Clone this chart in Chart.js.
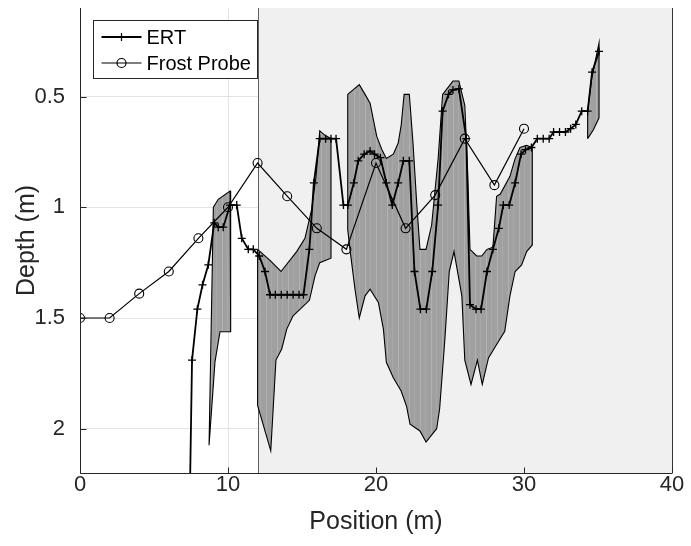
<!DOCTYPE html>
<html>
<head>
<meta charset="utf-8">
<script src="https://cdn.jsdelivr.net/npm/chart.js@4.4.1/dist/chart.umd.min.js"></script>
<style>
  html, body { margin: 0; padding: 0; background: #fff; }
  #wrap { width: 691px; height: 546px; }
</style>
</head>
<body>
<div id="wrap"><canvas id="chart" width="691" height="546"></canvas></div>
<script>
// axis ticks
var xTicks = [0, 10, 20, 30, 40];
var yTicks = [0.5, 1, 1.5, 2];
var shadeFrom = 12, shadeTo = 40;

// frost probe readings
var frostX = [0, 2, 4, 6, 8, 10, 12, 14, 16, 18, 20, 22, 24, 26, 28, 30];
var frostDepth = [1.5, 1.5, 1.39, 1.29, 1.14, 1.0, 0.8, 0.95, 1.095, 1.19, 0.8, 1.095, 0.945, 0.69, 0.9, 0.645];

// ERT estimate
var ertX = [7.4, 7.57, 7.93, 8.28, 8.67, 9.07, 9.34, 9.68, 10.14, 10.59, 10.93, 11.37, 11.71, 12.11, 12.5,
  12.84, 13.2, 13.6, 14.0, 14.4, 14.8, 15.1, 15.5, 15.8, 16.2, 16.6, 16.96, 17.3, 17.8, 18.1,
  18.5, 18.8, 19.2, 19.6, 19.9, 20.3, 20.7, 21.1, 21.5, 21.85, 22.25, 22.6, 23.0, 23.4, 23.8,
  24.2, 24.5, 24.9, 25.2, 25.6, 26.1, 26.35, 26.76, 27.1, 27.5, 27.9, 28.3, 28.6, 29.0, 29.4,
  29.8, 30.1, 30.5, 30.9, 31.3, 31.7, 32.0, 32.4, 32.8, 33.15, 33.5, 33.9, 34.3, 34.6, 35.07];
var ertDepth = [2.4, 1.69, 1.46, 1.35, 1.26, 1.07, 1.09, 1.09, 0.99, 0.99, 1.14, 1.19, 1.19, 1.22, 1.29,
  1.395, 1.395, 1.395, 1.395, 1.395, 1.395, 1.395, 1.19, 0.89, 0.69, 0.69, 0.69, 0.69, 0.99, 0.99,
  0.89, 0.79, 0.76, 0.746, 0.76, 0.776, 0.89, 0.99, 0.89, 0.79, 0.79, 1.29, 1.46, 1.46, 1.29,
  0.99, 0.566, 0.49, 0.47, 0.465, 0.69, 1.44, 1.46, 1.46, 1.29, 1.19, 1.095, 0.99, 0.99, 0.89,
  0.76, 0.74, 0.73, 0.69, 0.69, 0.69, 0.66, 0.66, 0.66, 0.645, 0.626, 0.566, 0.566, 0.39, 0.296];

// uncertainty band outlines (x, depth), one per piece
var bandAX = [9.01, 9.34, 10.14, 10.18, 9.46, 9.12, 8.72];
var bandAD = [1.0, 0.964, 0.927, 1.562, 1.562, 1.698, 2.075];
var bandBX = [12.0, 12.84, 13.58, 14.64, 15.2, 15.65, 15.95, 16.2, 16.55, 16.96, 16.96, 16.2, 15.88, 15.5, 14.4, 13.97, 13.63, 13.24, 12.89, 12.0];
var bandBD = [1.19, 1.24, 1.29, 1.2, 1.14, 1.01, 0.86, 0.655, 0.675, 0.69, 1.23, 1.25, 1.31, 1.42, 1.49, 1.55, 1.64, 1.69, 2.1, 1.895];
var bandCX = [18.09, 18.87, 19.26, 19.6, 20.05, 20.4, 20.7, 21.17, 21.5, 21.7, 21.9, 22.25, 22.5, 22.75, 22.97, 23.38, 23.76, 24.2, 24.5,
  25.2, 25.6, 26.0, 26.2, 26.35, 26.8, 27.14, 27.5, 27.9, 28.15, 28.4, 29.05, 29.4, 29.73, 30.18, 30.56,
  30.56, 30.18, 29.84, 29.4, 29.05, 28.7, 28.15, 27.6, 27.18, 26.85, 26.42, 26.0, 25.8, 25.27, 24.95, 24.66, 24.3, 24.1,
  23.38, 22.97, 22.3, 22.07, 21.7, 21.17, 20.7, 20.5, 20.16, 19.6, 19.26, 18.87, 18.58, 18.24, 18.09];
var bandCD = [0.49, 0.446, 0.49, 0.53, 0.68, 0.74, 0.78, 0.76, 0.71, 0.63, 0.49, 0.49, 0.71, 0.98, 1.19, 1.19, 1.08, 0.78, 0.49,
  0.43, 0.43, 0.54, 0.85, 1.19, 1.22, 1.22, 1.19, 1.18, 0.95, 0.94, 0.86, 0.78, 0.73, 0.72, 0.73,
  1.17, 1.2, 1.26, 1.29, 1.4, 1.56, 1.62, 1.68, 1.8, 1.69, 1.8, 1.69, 1.4, 1.2, 1.29, 1.59, 1.91, 2.0,
  2.06, 2.01, 1.98, 1.9, 1.83, 1.77, 1.7, 1.55, 1.43, 1.37, 1.4, 1.5, 1.37, 1.19, 1.1];
var bandDX = [34.3, 34.3, 34.57, 35.07, 35.07, 34.69];
var bandDD = [0.69, 0.566, 0.42, 0.258, 0.596, 0.65];

var FONT = "'Liberation Sans', Arial, Helvetica, sans-serif";
var INK = '#262626';

function points(xs, ds) {
  return xs.map(function (x, i) { return {x: x, y: ds[i]}; });
}

function outline(xs, ds) {
  var pts = points(xs, ds);
  pts.push({x: xs[0], y: ds[0]});
  return pts;
}

function hatch() {
  var c = document.createElement('canvas');
  c.width = 11; c.height = 4;
  var g = c.getContext('2d');
  g.fillStyle = '#a0a0a0'; g.fillRect(0, 0, 11, 4);
  g.fillStyle = '#b2b2b2'; g.fillRect(2, 0, 1, 4);
  g.fillStyle = '#a9a9a9'; g.fillRect(7, 0, 1, 4);
  return g.createPattern(c, 'repeat');
}
var bandFill = hatch();

function bandSet(xs, ds) {
  return {
    data: outline(xs, ds),
    fill: 'shape',
    backgroundColor: bandFill,
    borderColor: '#000',
    borderWidth: 1.1,
    pointRadius: 0,
    tension: 0
  };
}

// light gray patch behind everything right of x=12
var shadePlugin = {
  id: 'shade',
  beforeDatasetsDraw: function (chart) {
    var ctx = chart.ctx, a = chart.chartArea, xs = chart.scales.x;
    var x0 = Math.round(xs.getPixelForValue(shadeFrom)) + 0.5;
    var x1 = Math.round(xs.getPixelForValue(shadeTo)) + 0.5;
    ctx.save();
    ctx.fillStyle = '#f0f0f0';
    ctx.fillRect(x0, a.top, x1 - x0, a.bottom - a.top);
    ctx.lineWidth = 1;
    ctx.strokeStyle = '#606060';
    ctx.beginPath(); ctx.moveTo(x0, a.top); ctx.lineTo(x0, a.bottom); ctx.stroke();
    ctx.strokeStyle = '#333';
    ctx.beginPath(); ctx.moveTo(x1, a.top); ctx.lineTo(x1, a.bottom); ctx.stroke();
    ctx.restore();
  }
};

// axis lines with inward ticks, MATLAB style
var axesPlugin = {
  id: 'axesLines',
  afterDatasetsDraw: function (chart) {
    var ctx = chart.ctx, a = chart.chartArea;
    var xs = chart.scales.x, ys = chart.scales.y;
    var L = Math.round(a.left) + 0.5, B = Math.round(a.bottom) + 0.5;
    ctx.save();
    ctx.strokeStyle = INK;
    ctx.lineWidth = 1;
    ctx.beginPath();
    ctx.moveTo(L, a.top); ctx.lineTo(L, B); ctx.lineTo(a.right, B);
    xTicks.forEach(function (v) {
      var p = Math.round(xs.getPixelForValue(v)) + 0.5;
      ctx.moveTo(p, B); ctx.lineTo(p, B - 6);
    });
    yTicks.forEach(function (v) {
      var p = Math.round(ys.getPixelForValue(v)) + 0.5;
      ctx.moveTo(L, p); ctx.lineTo(L + 6, p);
    });
    ctx.stroke();
    ctx.restore();
  }
};

function marker(ctx, style, x, y) {
  ctx.beginPath();
  if (style === 'cross') {
    ctx.moveTo(x - 4, y); ctx.lineTo(x + 4, y);
    ctx.moveTo(x, y - 4); ctx.lineTo(x, y + 4);
  } else {
    ctx.arc(x, y, 4.5, 0, Math.PI * 2);
  }
  ctx.stroke();
}

var legendPlugin = {
  id: 'boxLegend',
  afterDraw: function (chart) {
    var ctx = chart.ctx, a = chart.chartArea;
    var bx = Math.round(a.left) + 13.5, by = Math.round(a.top) + 12.5;
    var rows = [chart.data.datasets[1], chart.data.datasets[0]];
    ctx.save();
    ctx.fillStyle = '#fff';
    ctx.fillRect(bx, by, 164, 58);
    ctx.strokeStyle = INK;
    ctx.lineWidth = 1;
    ctx.strokeRect(bx, by, 164, 58);
    rows.forEach(function (ds, i) {
      var cy = by + 16.5 + i * 26;
      ctx.strokeStyle = '#000';
      ctx.lineWidth = ds.borderWidth;
      ctx.beginPath(); ctx.moveTo(bx + 8, cy); ctx.lineTo(bx + 48, cy); ctx.stroke();
      ctx.lineWidth = 1.2;
      marker(ctx, ds.pointStyle, bx + 28, cy);
      ctx.fillStyle = '#000';
      ctx.font = '20px ' + FONT;
      ctx.textAlign = 'left';
      ctx.textBaseline = 'middle';
      ctx.fillText(ds.label, bx + 53, cy + 1);
    });
    ctx.restore();
  }
};

var datasets = [
  {
    label: 'Frost Probe',
    data: points(frostX, frostDepth),
    borderColor: '#000',
    borderWidth: 1.2,
    pointStyle: 'circle',
    pointRadius: 4.5,
    pointBorderColor: '#000',
    pointBorderWidth: 1.1,
    pointBackgroundColor: 'rgba(0,0,0,0)',
    tension: 0,
    fill: false
  },
  {
    label: 'ERT',
    data: points(ertX, ertDepth),
    borderColor: '#000',
    borderWidth: 1.8,
    pointStyle: 'cross',
    pointRadius: 4,
    pointBorderColor: '#000',
    pointBorderWidth: 1.3,
    tension: 0,
    fill: false
  },
  bandSet(bandAX, bandAD),
  bandSet(bandBX, bandBD),
  bandSet(bandCX, bandCD),
  bandSet(bandDX, bandDD)
];

function plainLabel(v) { return String(v); }

new Chart(document.getElementById('chart'), {
  type: 'line',
  data: {datasets: datasets},
  plugins: [shadePlugin, axesPlugin, legendPlugin],
  options: {
    responsive: false,
    animation: false,
    devicePixelRatio: 1,
    events: [],
    layout: {padding: {left: 0, top: 8, right: 19, bottom: 0}},
    plugins: {legend: {display: false}, tooltip: {enabled: false}},
    scales: {
      x: {
        type: 'linear',
        min: 0, max: 40,
        afterFit: function (s) { s.height = 73; s.paddingLeft = 0; s.paddingRight = 0; },
        afterBuildTicks: function (s) { s.ticks = xTicks.map(function (v) { return {value: v}; }); },
        grid: {color: '#e3e3e3', drawTicks: false},
        border: {display: false},
        ticks: {color: INK, font: {family: FONT, size: 22}, padding: -1, maxRotation: 0, callback: plainLabel},
        title: {display: true, text: 'Position (m)', color: INK, font: {family: FONT, size: 25}, padding: {top: 0, bottom: 9}}
      },
      y: {
        type: 'linear',
        min: 0.1, max: 2.2,
        reverse: true,
        afterFit: function (s) { s.width = 80; s.paddingTop = 0; s.paddingBottom = 0; },
        afterBuildTicks: function (s) { s.ticks = yTicks.map(function (v) { return {value: v}; }); },
        grid: {color: '#e3e3e3', drawTicks: false},
        border: {display: false},
        ticks: {color: INK, font: {family: FONT, size: 22}, padding: 15, callback: plainLabel},
        title: {display: true, text: 'Depth (m)', color: INK, font: {family: FONT, size: 25}, padding: {top: 12, bottom: 0}}
      }
    }
  }
});
</script>
</body>
</html>
